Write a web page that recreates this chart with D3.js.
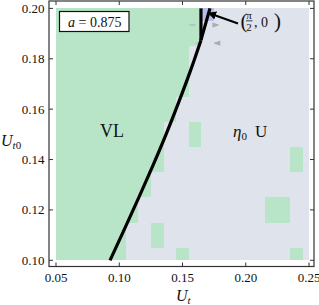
<!DOCTYPE html>
<html lang="en">
<head>
    <meta charset="UTF-8">
    <title>Phase diagram a = 0.875</title>
    <script src="https://d3js.org/d3.v7.min.js"></script>
    <style>
        body { margin: 0; background: #fff; }
        svg { display: block; }
        text { font-family: "Liberation Serif", "DejaVu Serif", serif; fill: #111; }
        .tick-label { font-size: 13px; }
    </style>
</head>
<body>
<script>
    const width = 319;
    const height = 305;

    // grid of the computed phase map
    const utCols = [0.05, 0.06, 0.07, 0.08, 0.09, 0.10, 0.11, 0.12, 0.13, 0.14, 0.15,
                    0.16, 0.17, 0.18, 0.19, 0.20, 0.21, 0.22, 0.23, 0.24, 0.25];
    const ut0Rows = [0.10, 0.11, 0.12, 0.13, 0.14, 0.15, 0.16, 0.17, 0.18, 0.19, 0.20];
    // last Ut column still in the VL phase, one entry per row
    const vlEdge = [0.10, 0.10, 0.11, 0.12, 0.13, 0.13, 0.14, 0.15, 0.15, 0.16, 0.16];
    // isolated VL cells inside the eta0 U region
    const vlExtra = [[0.13, 0.11], [0.15, 0.10], [0.16, 0.15], [0.22, 0.12],
                     [0.23, 0.12], [0.24, 0.10], [0.24, 0.14]];
    const piCells = [[0.17, 0.20]];

    // analytic boundary (Ut, Ut0)
    const boundary = [[0.0927, 0.100], [0.1042, 0.1125], [0.1155, 0.125], [0.1265, 0.1375],
                      [0.1370, 0.150], [0.1468, 0.1625], [0.1561, 0.175], [0.1646, 0.1874]];
    const branchA = [[0.1646, 0.1874], [0.1646, 0.200]];
    const branchB = [[0.1646, 0.1874], [0.1717, 0.200]];

    // little grey arrow marks near the top
    const marks = [[0.1578, 0.1934, 0], [0.1760, 0.1934, 1], [0.1630, 0.1862, 0], [0.1775, 0.1862, -1]];

    const xTicks = [0.05, 0.10, 0.15, 0.20, 0.25];
    const yTicks = [0.10, 0.12, 0.14, 0.16, 0.18, 0.20];

    const colVL = "#b8e5c8";
    const colU = "#dee3ec";
    const colPi = "#b7c0e8";

    const x = d3.scaleLinear().domain([0.05, 0.25]).range([56, 309]);
    const y = d3.scaleLinear().domain([0.10, 0.20]).range([260.3, 8.4]);

    // frame (with plot range padding)
    const frame = {left: 49, right: 314, top: 1, bottom: 266.5};

    const svg = d3.select("body").append("svg")
        .attr("width", width).attr("height", height);

    // cells
    const cells = [];
    ut0Rows.forEach(function(r, i) {
        utCols.forEach(function(c) {
            const near = (p) => Math.abs(p[0] - c) < 1e-6 && Math.abs(p[1] - r) < 1e-6;
            let phase = "U";
            if (c <= vlEdge[i] + 1e-6 || vlExtra.some(near)) phase = "VL";
            if (piCells.some(near)) phase = "pi";
            cells.push({c: c, r: r, phase: phase});
        });
    });

    const h = 0.005;
    svg.append("g")
        .selectAll("rect")
        .data(cells)
        .enter()
        .append("rect")
        .attr("x", d => x(Math.max(0.05, d.c - h)))
        .attr("width", d => x(Math.min(0.25, d.c + h)) - x(Math.max(0.05, d.c - h)))
        .attr("y", d => y(Math.min(0.20, d.r + h)))
        .attr("height", d => y(Math.max(0.10, d.r - h)) - y(Math.min(0.20, d.r + h)))
        .attr("shape-rendering", "crispEdges")
        .style("fill", d => d.phase === "VL" ? colVL : (d.phase === "pi" ? colPi : colU));

    // grey arrow marks
    const gm = svg.append("g").attr("stroke", "#a9adb3").attr("stroke-width", 1).attr("fill", "none");
    marks.forEach(function(m) {
        const px = x(m[0]), py = y(m[1]);
        if (m[2] === 0) {
            gm.append("line").attr("x1", px - 3).attr("x2", px + 3).attr("y1", py).attr("y2", py);
        } else {
            gm.append("path")
                .attr("d", `M${px - 3 * m[2]},${py - 2} L${px + 3 * m[2]},${py} L${px - 3 * m[2]},${py + 2}`)
                .attr("fill", "#a9adb3");
        }
    });

    // boundary curves
    svg.append("path")
        .attr("d", d3.line().x(d => x(d[0])).y(d => y(d[1])).curve(d3.curveNatural)(boundary))
        .attr("fill", "none").attr("stroke", "#000").attr("stroke-width", 3.2)
        .attr("stroke-linejoin", "round");
    [branchA, branchB].forEach(function(b) {
        svg.append("path")
            .attr("d", d3.line().x(d => x(d[0])).y(d => y(d[1]))(b))
            .attr("fill", "none").attr("stroke", "#000").attr("stroke-width", 3.2);
    });

    // frame and ticks
    svg.append("rect")
        .attr("x", frame.left).attr("y", frame.top)
        .attr("width", frame.right - frame.left).attr("height", frame.bottom - frame.top)
        .attr("fill", "none").attr("stroke", "#333").attr("stroke-width", 1.2);

    const tk = svg.append("g").attr("stroke", "#333").attr("stroke-width", 1);
    xTicks.forEach(function(t) {
        tk.append("line").attr("x1", x(t)).attr("x2", x(t)).attr("y1", frame.bottom).attr("y2", frame.bottom - 4);
        tk.append("line").attr("x1", x(t)).attr("x2", x(t)).attr("y1", frame.top).attr("y2", frame.top + 4);
    });
    yTicks.forEach(function(t) {
        tk.append("line").attr("x1", frame.left).attr("x2", frame.left + 4).attr("y1", y(t)).attr("y2", y(t));
        tk.append("line").attr("x1", frame.right).attr("x2", frame.right - 4).attr("y1", y(t)).attr("y2", y(t));
    });

    svg.append("g").selectAll("text")
        .data(xTicks).enter().append("text")
        .attr("class", "tick-label")
        .attr("x", d => x(d)).attr("y", 282)
        .attr("text-anchor", "middle")
        .text(d => d3.format(".2f")(d));

    svg.append("g").selectAll("text")
        .data(yTicks).enter().append("text")
        .attr("class", "tick-label")
        .attr("x", 44.5).attr("y", d => y(d) + 4.5)
        .attr("text-anchor", "end")
        .text(d => d3.format(".2f")(d));

    // axis labels
    const xl = svg.append("text").attr("x", 176).attr("y", 301).style("font-size", "16px");
    xl.append("tspan").style("font-style", "italic").text("U");
    xl.append("tspan").style("font-style", "italic").style("font-size", "11px").attr("dy", 3).text("t");

    const yl = svg.append("text").attr("x", 1).attr("y", 146).style("font-size", "16px");
    yl.append("tspan").style("font-style", "italic").text("U");
    yl.append("tspan").style("font-style", "italic").style("font-size", "11px").attr("dy", 3).text("t");
    yl.append("tspan").style("font-size", "11px").text("0");

    // a = 0.875 box
    svg.append("rect")
        .attr("x", 59.5).attr("y", 11.5).attr("width", 69.5).attr("height", 20)
        .attr("fill", "#fff").attr("stroke", "#111").attr("stroke-width", 1.2);
    const at = svg.append("text").attr("x", 68).attr("y", 26.5).style("font-size", "14px");
    at.append("tspan").style("font-style", "italic").text("a");
    at.append("tspan").text(" = 0.875");

    // region labels
    svg.append("text").attr("x", 112).attr("y", 136.5)
        .attr("text-anchor", "middle").style("font-size", "18px").text("VL");
    const eu = svg.append("text").attr("x", 233).attr("y", 136.5).style("font-size", "17px");
    eu.append("tspan").style("font-style", "italic").text("η");
    eu.append("tspan").style("font-size", "11px").attr("dy", 3).text("0");
    eu.append("tspan").attr("dy", -3).attr("dx", 8).text("U");

    // (pi/2, 0) annotation
    svg.append("defs").append("marker")
        .attr("id", "ah").attr("viewBox", "0 0 10 10")
        .attr("refX", 9).attr("refY", 5)
        .attr("markerWidth", 4.2).attr("markerHeight", 4.2)
        .attr("orient", "auto")
        .append("path").attr("d", "M0,0 L10,5 L0,10 Z").attr("fill", "#000");
    svg.append("line")
        .attr("x1", 238).attr("y1", 23.5).attr("x2", 208.5).attr("y2", 13)
        .attr("stroke", "#000").attr("stroke-width", 2)
        .attr("marker-end", "url(#ah)");

    svg.append("text").attr("x", 240.5).attr("y", 27.5).style("font-size", "21px").text("(");
    svg.append("text").attr("x", 249).attr("y", 18.5).attr("text-anchor", "middle")
        .style("font-size", "11px").text("π");
    svg.append("line").attr("x1", 246).attr("x2", 252.5).attr("y1", 20.8).attr("y2", 20.8)
        .attr("stroke", "#111").attr("stroke-width", 0.8);
    svg.append("text").attr("x", 249).attr("y", 30.5).attr("text-anchor", "middle")
        .style("font-size", "11px").text("2");
    svg.append("text").attr("x", 254).attr("y", 26.5).style("font-size", "14px").text(", 0");
    svg.append("text").attr("x", 274).attr("y", 27.5).style("font-size", "21px").text(")");
</script>
</body>
</html>
